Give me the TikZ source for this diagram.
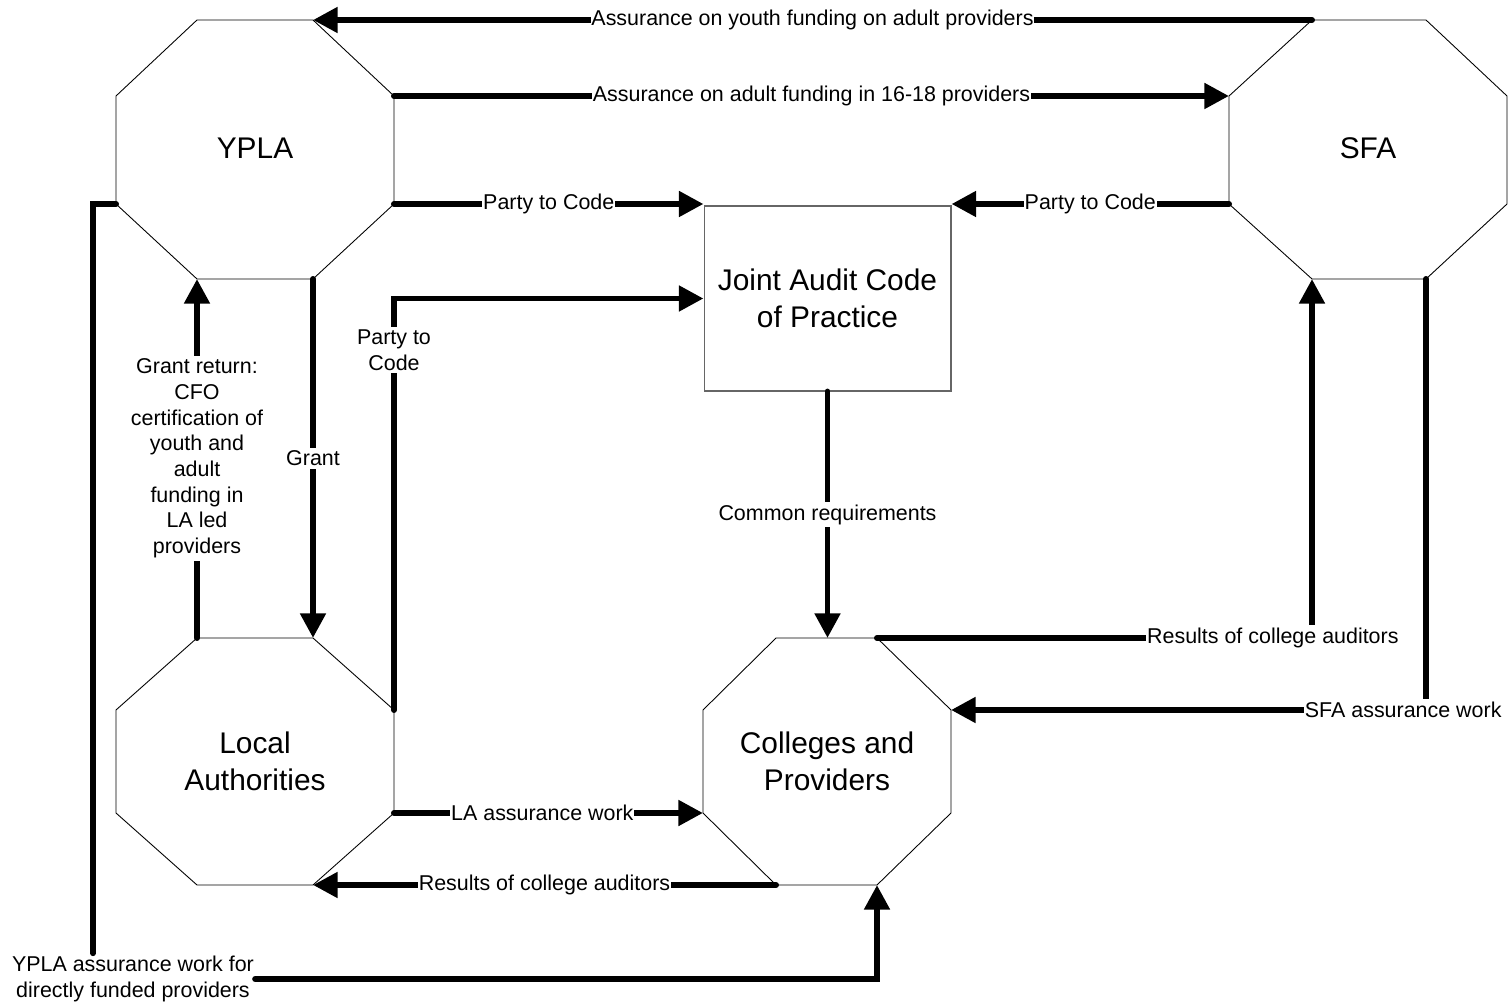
\documentclass[tikz,border=0pt]{standalone}
\usepackage{fontspec}
\setmainfont{Liberation Sans}
\usetikzlibrary{arrows.meta}

\begin{document}
\begin{tikzpicture}[x=0.02cm, y=-0.02cm,
	octa/.style = {draw, line width=0.5pt, line join=miter},
	big/.style = {font=\fontsize{17}{21}\selectfont, align=center},
	line/.style = {line width=3.4pt, line cap=round},
	conn/.style = {line, -{Triangle[length=14pt, width=14pt]}},
	lbl/.style = {fill=white, inner xsep=0.5pt, inner ysep=1.5pt, font=\fontsize{12.2}{14.6}\selectfont, align=center}]
	\useasboundingbox (0,0) rectangle (1511,1006);
	% the four octagons
	\draw[octa] (197,20) coordinate (yp-tl) -- (313,20) coordinate (yp-tr) -- (394,96) coordinate (yp-rt) -- (394,204) coordinate (yp-rb) -- (313,279) coordinate (yp-br) -- (197,279) coordinate (yp-bl) -- (116,204) coordinate (yp-lb) -- (116,96) coordinate (yp-lt) -- cycle;
	\draw[octa] (1312,20) coordinate (sf-tl) -- (1426,20) coordinate (sf-tr) -- (1507,96) coordinate (sf-rt) -- (1507,204) coordinate (sf-rb) -- (1426,279) coordinate (sf-br) -- (1312,279) coordinate (sf-bl) -- (1229,204) coordinate (sf-lb) -- (1229,96) coordinate (sf-lt) -- cycle;
	\draw[octa] (197,638) coordinate (la-tl) -- (313,638) coordinate (la-tr) -- (394,710) coordinate (la-rt) -- (394,813) coordinate (la-rb) -- (313,885) coordinate (la-br) -- (197,885) coordinate (la-bl) -- (116,813) coordinate (la-lb) -- (116,710) coordinate (la-lt) -- cycle;
	\draw[octa] (776,638) coordinate (cp-tl) -- (877,638) coordinate (cp-tr) -- (951,710) coordinate (cp-rt) -- (951,813) coordinate (cp-rb) -- (877,885) coordinate (cp-br) -- (776,885) coordinate (cp-bl) -- (703,813) coordinate (cp-lb) -- (703,710) coordinate (cp-lt) -- cycle;
	\node[big] (ypla) at (255,148) {YPLA};
	\node[big] (sfa) at (1368,148) {SFA};
	\node[big] (la) at (255,761) {Local\\Authorities};
	\node[big] (cp) at (827,761) {Colleges and\\Providers};
	\node[big, draw=black!60, line width=0.6pt, minimum width=4.94cm, minimum height=3.7cm, inner sep=0pt] (jac) at (827.5,298.5) {Joint Audit Code\\of Practice};
	% top links
	\draw[conn] (sf-tl) -- node[lbl]{Assurance on youth funding on adult providers} (yp-tr);
	\draw[conn] (yp-rt) -- node[lbl]{Assurance on adult funding in 16-18 providers} (sf-lt);
	\draw[conn] (yp-rb) -- node[lbl]{Party to Code} (yp-rb -| jac.west);
	\draw[conn] (sf-lb) -- node[lbl]{Party to Code} (sf-lb -| jac.east);
	% YPLA and LA
	\draw[conn] (yp-br) -- node[lbl]{Grant} (la-tr);
	\draw[conn] (la-tl) -- node[lbl]{Grant return:\\CFO\\certification of\\youth and\\adult\\funding in\\LA led\\providers} (yp-bl);
	\draw[conn] (la-rt) |- node[lbl, pos=0.437]{Party to\\Code} (jac.west);
	% code to colleges
	\draw[conn] (jac.south) -- node[lbl]{Common requirements} (jac.south |- cp-tl);
	\draw[conn] (cp-tr) -| node[lbl, pos=0.455]{Results of college auditors} (sf-bl);
	\draw[conn] (sf-br) |- node[lbl, pos=0.524]{SFA assurance work} (cp-rt);
	\draw[conn] (la-rb) -- node[lbl, pos=0.48]{LA assurance work} (cp-lb);
	\draw[conn] (cp-bl) -- node[lbl]{Results of college auditors} (la-br);
	% direct funding
	\node[lbl, fill=none] (yaw) at (133,979) {YPLA assurance work for\\directly funded providers};
	\draw[line] (yp-lb) -| ([xshift=-0.8cm]yaw.north);
	\draw[conn] (yaw.east) -| (cp-br);
\end{tikzpicture}
\end{document}
